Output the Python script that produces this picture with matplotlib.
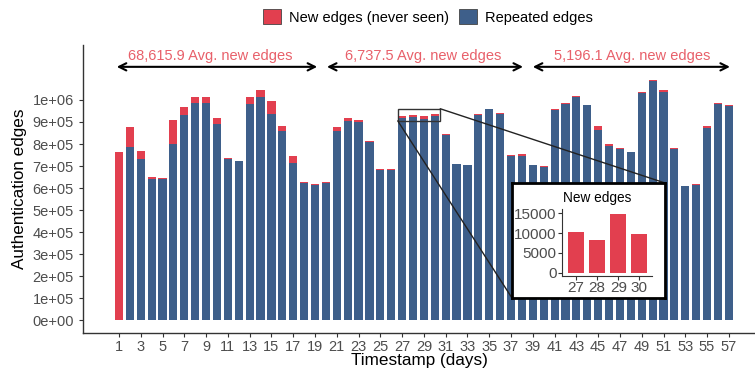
import matplotlib
matplotlib.use("Agg")
import matplotlib.pyplot as plt
from matplotlib.patches import Patch, Rectangle, ConnectionPatch

plt.rcParams['font.family'] = ['Liberation Sans', 'DejaVu Sans']

# data (thousands of edges)
days = list(range(1, 58))
repeated_k = [0, 785, 733, 643, 640, 800, 932, 988, 988, 890,
              733, 721, 980, 1013, 938, 860, 713, 625, 616, 625,
              860, 905, 901, 809, 683, 683, 918, 924, 913, 928,
              840, 708, 704, 932, 958, 934, 748, 748, 704, 698,
              953, 980, 1013, 975, 863, 793, 779, 764, 1030, 1086,
              1037, 778, 609, 616, 871, 983, 971]
new_k = [763, 92, 34, 7, 4, 110, 38, 25, 25, 27,
         2, 1.5, 33, 32, 55, 20, 33, 1.5, 1.2, 1.5,
         16, 15, 7, 7, 4, 4, 10.2, 8.3, 14.7, 9.7,
         5, 1.5, 1.5, 5, 3, 5, 4, 6, 1.5, 1.5,
         6, 7, 5, 2, 21, 6, 1.5, 1.5, 5, 6,
         6, 6, 1.5, 4, 9, 4, 4]
repeated = [v * 1000 for v in repeated_k]
new = [v * 1000 for v in new_k]

inset_days = [27, 28, 29, 30]
inset_new = [10200, 8250, 14700, 9700]

avg_labels = ["68,615.9 Avg. new edges", "6,737.5 Avg. new edges", "5,196.1 Avg. new edges"]
avg_spans = [(0.8, 19.2), (20.1, 38.1), (39.0, 57.1)]
avg_text_x = [9.35, 28.9, 48.1]

ytick_vals = [i * 100000 for i in range(11)]
ytick_labels = ["0e+00", "1e+05", "2e+05", "3e+05", "4e+05", "5e+05",
                "6e+05", "7e+05", "8e+05", "9e+05", "1e+06"]
xtick_vals = list(range(1, 58, 2))

RED = "#E23F4F"
BLUE = "#3E5F8A"
TXT = "#4D4D4D"
W, H = 755, 370

fig = plt.figure(figsize=(W / 100, H / 100), dpi=100)
ax = fig.add_axes([83 / W, 1 - 333 / H, (755 - 83) / W, (333 - 45) / H])

ax.bar(days, repeated, width=0.75, color=BLUE, zorder=2)
ax.bar(days, new, width=0.75, bottom=repeated, color=RED, zorder=2)

ax.set_xlim(-2.3, 59.4)
ax.set_ylim(-56700, 1249000)
ax.set_yticks(ytick_vals)
ax.set_yticklabels(ytick_labels)
ax.set_xticks(xtick_vals)
ax.tick_params(colors="#333333", labelcolor=TXT, labelsize=10.5, length=3, width=0.8)
ax.tick_params(axis="x", pad=2)
for s in ["top", "right"]:
    ax.spines[s].set_visible(False)
for s in ["left", "bottom"]:
    ax.spines[s].set_color("#333333")
    ax.spines[s].set_linewidth(1.0)
ax.set_ylabel("Authentication edges", fontsize=12.3, labelpad=4)
ax.set_xlabel("Timestamp (days)", fontsize=12.3, labelpad=-1)

for lab, (a, b), tx in zip(avg_labels, avg_spans, avg_text_x):
    ax.annotate("", xy=(b, 1.150e6), xytext=(a, 1.150e6),
                arrowprops=dict(arrowstyle="<->", lw=1.5, color="black",
                                shrinkA=0, shrinkB=0, mutation_scale=13))
    ax.text(tx, 1.197e6, lab, color="#E8606A", fontsize=10.5, ha="center", va="center")

# zoom rectangle
ax.add_patch(Rectangle((26.6, 0.905e6), 3.9, 0.055e6, fill=False,
                       edgecolor="#333333", lw=1.0, zorder=3))

# inset frame + inset chart
box = fig.add_axes([512 / W, 1 - 298 / H, 153 / W, 115 / H], zorder=3)
box.set_xticks([]); box.set_yticks([])
box.set_facecolor("white")
for s in box.spines.values():
    s.set_linewidth(2.0)
    s.set_color("black")

for xyA, xyB in [((30.5, 0.96e6), (1, 1)), ((26.6, 0.905e6), (0, 0))]:
    con = ConnectionPatch(xyA=xyA, coordsA=ax.transData, xyB=xyB, coordsB=box.transAxes,
                          color="#222222", lw=1.0, zorder=5)
    ax.add_artist(con)

ins = fig.add_axes([562 / W, 1 - 275.5 / H, 90 / W, 66.5 / H], zorder=4)
ins.patch.set_alpha(0)
ins.bar(inset_days, inset_new, width=0.76, color=RED)
ins.set_xlim(26.33, 30.6)
ins.set_ylim(-625, 16000)
ins.set_yticks([0, 5000, 10000, 15000])
ins.set_xticks(inset_days)
ins.tick_params(colors="#333333", labelcolor=TXT, labelsize=11, length=3, width=0.8, pad=1)
for s in ["top", "right"]:
    ins.spines[s].set_visible(False)
for s in ["left", "bottom"]:
    ins.spines[s].set_color("#333333")
fig.text(597 / W, 1 - 198 / H, "New edges", fontsize=9.8, ha="center", va="center")

handles = [Patch(facecolor=RED, edgecolor="#444444", lw=0.6),
           Patch(facecolor=BLUE, edgecolor="#444444", lw=0.6)]
fig.legend(handles, ["New edges (never seen)", "Repeated edges"], loc="center",
           bbox_to_anchor=(428 / W, 1 - 17 / H), ncol=2, frameon=False,
           fontsize=10.5, handlelength=1.23, handleheight=1.23,
           handletextpad=0.55, columnspacing=0.7, borderpad=0)

fig.savefig("out.png", dpi=100)
